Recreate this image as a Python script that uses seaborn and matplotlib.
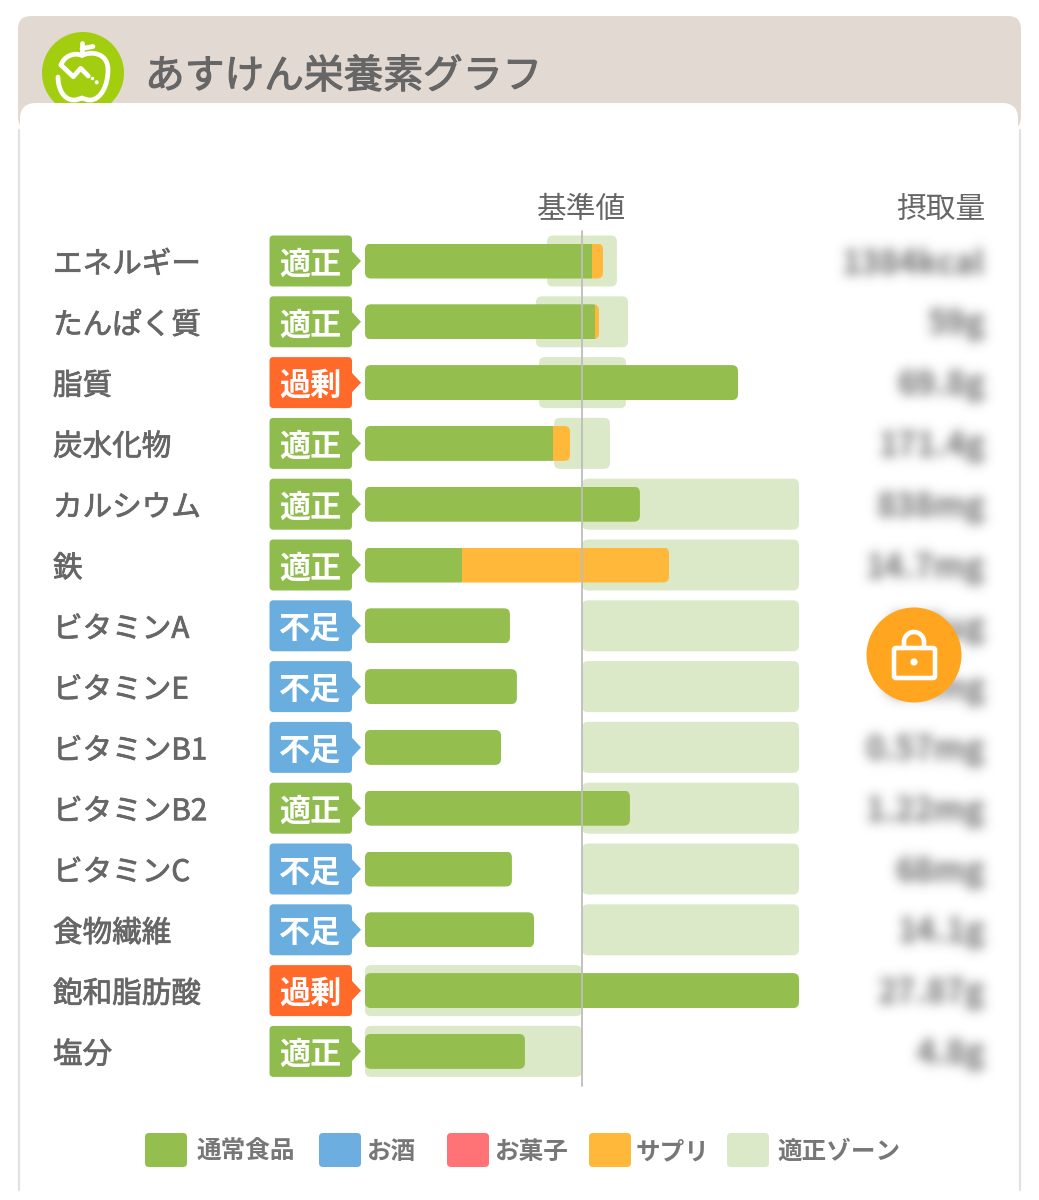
import numpy as np
import matplotlib
matplotlib.use("Agg")
import matplotlib.pyplot as plt
import matplotlib.patheffects as pe
from matplotlib.patches import FancyBboxPatch, Circle, Polygon, PathPatch
from matplotlib.path import Path
import seaborn as sns

sns.set_theme(style="white")
plt.rcParams["font.family"] = ["Noto Sans CJK JP", "DejaVu Sans"]

# ---- data (percent of the reference value; bar axis is clipped at 200) ----
nutrients = ["エネルギー", "たんぱく質", "脂質", "炭水化物", "カルシウム", "鉄", "ビタミンA",
             "ビタミンE", "ビタミンB1", "ビタミンB2", "ビタミンC", "食物繊維", "飽和脂肪酸", "塩分"]
status = ["適正", "適正", "過剰", "適正", "適正", "適正", "不足",
          "不足", "不足", "適正", "不足", "不足", "過剰", "適正"]
food_pct = [104.6, 106.0, 171.9, 86.6, 126.7, 44.7, 66.8,
            70.0, 62.7, 122.1, 67.7, 77.9, 200.0, 73.7]
supplement_pct = [5.1, 1.8, 0.0, 7.9, 0.0, 95.4, 0.0,
                  0.0, 0.0, 0.0, 0.0, 0.0, 0.0, 0.0]
zone_low = [83.9, 78.8, 80.2, 87.1, 100, 100, 100, 100, 100, 100, 100, 100, 0, 0]
zone_high = [116.1, 121.2, 120.3, 112.9, 200, 200, 200, 200, 200, 200, 200, 200, 100, 100]
intake = ["1384kcal", "59g", "69.8g", "171.4g", "838mg", "14.7mg", "468μg",
          "4.6mg", "0.57mg", "1.22mg", "68mg", "14.1g", "27.87g", "4.8g"]
legend_names = ["通常食品", "お酒", "お菓子", "サプリ", "適正ゾーン"]

GREEN, BLUE, RED, ORANGE, ZONE = "#94BE4E", "#6CAEE0", "#FF7377", "#FFB83A", "#DCE9C8"
badge_colors = {"適正": "#8FBC4C", "不足": "#6AAEE0", "過剰": "#FF6A2B"}
TXT = "#666666"
medium = [pe.withStroke(linewidth=0.55, foreground=TXT)]

W, H = 1039, 1200
fig = plt.figure(figsize=(W / 100, H / 100), dpi=100, facecolor="white")

# pixel-space page layer (card, header, logo)
bg = fig.add_axes([0, 0, 1, 1], zorder=0)
bg.set_xlim(0, W); bg.set_ylim(H, 0); bg.axis("off")
bg.add_patch(FancyBboxPatch((18, 16), 1003, 114, boxstyle="round,pad=0,rounding_size=13",
                            fc="#E3D9D3", ec="none"))
LOGO = "#A3CE0F"
bg.add_patch(Circle((83, 73), 41, fc=LOGO, ec="none"))
wh = dict(color="white", lw=3.4, solid_capstyle="round", solid_joinstyle="round", zorder=4)
apple_body = Path([(61, 65),
                   (64, 56), (74, 52), (82, 55.5),
                   (90, 51), (108, 52), (108, 70),
                   (108, 85), (101, 100), (90, 100),
                   (87, 100), (85, 99), (82, 98),
                   (79, 99), (77, 100), (74, 100),
                   (63, 100), (58, 88), (58, 77)],
                  [Path.MOVETO] + [Path.CURVE4] * 18)
bg.add_patch(PathPatch(apple_body, fc="none", ec="white", lw=3.4, capstyle="round", zorder=4))
bg.plot([82, 82], [43, 54], **wh)
bg.plot([82, 93], [48.5, 46.5], **wh)
bg.plot([61, 73.3, 80.7, 88.3], [65, 76.7, 68.3, 76], **wh)
bg.add_patch(Circle((92.5, 78.5), 1.7, fc="white", ec="none", zorder=4))
bg.add_patch(Circle((96.7, 82.3), 2.0, fc="white", ec="none", zorder=4))
bg.text(145, 77, "あすけん栄養素グラフ", fontsize=28.6, color=TXT, va="center", ha="left",
        path_effects=[pe.withStroke(linewidth=0.8, foreground=TXT)])
# white inner card and side shadows
bg.add_patch(FancyBboxPatch((20, 103), 998, 1100, boxstyle="round,pad=0,rounding_size=16",
                            fc="white", ec="none", zorder=5))
bg.plot([19, 19], [130, 1190], color="#E2E2E2", lw=1.6, zorder=5)
bg.plot([1020, 1020], [130, 1190], color="#E2E2E2", lw=1.6, zorder=5)
bg.text(581.5, 209, "基準値", fontsize=21.4, color=TXT, ha="center", va="center", zorder=6)
bg.text(985, 209, "摂取量", fontsize=21.4, color=TXT, ha="right", va="center", zorder=6)

# ---- chart axes: x 0..200 = px 365..799, one row = 60.8 px ----
X0, X1, RH, Y0 = 365, 799, 60.8, 261
top = Y0 - RH / 2
bottom = Y0 + 13 * RH + RH / 2
ax = fig.add_axes([X0 / W, 1 - bottom / H, (X1 - X0) / W, (bottom - top) / H], zorder=1)
ax.patch.set_alpha(0)

food = np.array(food_pct)
supp = np.array(supplement_pct)
low = np.array(zone_low)
high = np.array(zone_high)

PX_X = (X1 - X0) / 200.0


def rounded(x, y, w, h, r_px, **kw):
    return FancyBboxPatch((x, y), w, h, boxstyle=f"round,pad=0,rounding_size={r_px / PX_X}",
                          mutation_aspect=PX_X / RH, **kw)


n0 = len(ax.patches)
sns.barplot(x=high - low, y=nutrients, left=low, color=ZONE, saturation=1, width=51 / RH, orient="h", ax=ax, zorder=1)
zones = list(ax.patches[n0:])
n1 = len(ax.patches)
sns.barplot(x=supp, y=nutrients, left=food, color=ORANGE, saturation=1, width=35 / RH, orient="h", ax=ax, zorder=2)
supps = list(ax.patches[n1:])
n2 = len(ax.patches)
sns.barplot(x=food, y=nutrients, color=GREEN, saturation=1, width=35 / RH, orient="h", ax=ax, zorder=3)
foods = list(ax.patches[n2:])

ax.set_xlim(0, 200)
ax.set_ylim(13.5, -0.5)
ax.set_xlabel(""); ax.set_ylabel("")
ax.set_xticks([])
sns.despine(ax=ax, left=True, bottom=True, top=True, right=True)
ax.grid(False)

# rounded corners on the library's bars
for r in zones:
    x, y, w, h = r.get_x(), r.get_y(), r.get_width(), r.get_height()
    r.set_visible(False)
    ax.add_patch(rounded(x, y, w, h, 6, fc=ZONE, ec="none", zorder=1))
for rf, rs in zip(foods, supps):
    y, h = rf.get_y(), rf.get_height()
    total = rf.get_width() + rs.get_width()
    clip = rounded(0, y, total, h, 6, transform=ax.transData)
    rf.set_clip_path(clip)
    rs.set_clip_path(clip)
    rf.set_linewidth(0); rs.set_linewidth(0)

# base-value line
ax.plot([100, 100], [-0.5, 13.57], color="#BDBDBD", lw=1.3, zorder=5, clip_on=False)

# row labels as y tick labels
ax.tick_params(axis="y", length=0, pad=(X0 - 53) * 0.72)
for lab in ax.get_yticklabels():
    lab.set_ha("left")
    lab.set_fontsize(21.3)
    lab.set_color(TXT)
    lab.set_path_effects(medium)

# status badges
bx0 = (269.5 - X0) / PX_X
bx1 = (352 - X0) / PX_X
tip = (361 - X0) / PX_X
for i, s in enumerate(status):
    c = badge_colors[s]
    ax.add_patch(rounded(bx0, i - 25.5 / RH, bx1 - bx0, 51 / RH, 4, fc=c, ec="none", clip_on=False, zorder=2))
    ax.add_patch(Polygon([(bx1 - 1, i - 12 / RH), (tip, i), (bx1 - 1, i + 12 / RH)], closed=True,
                         fc=c, ec="none", clip_on=False, zorder=2))
    ax.text((310 - X0) / PX_X, i, s, color="white", fontsize=22.4, fontweight="bold", ha="center",
            va="center_baseline", clip_on=False, zorder=3)


# blurred intake column
def blur(img, dpi, sigma=5.6):
    pad = int(3 * sigma) + 2
    out = np.zeros((img.shape[0] + 2 * pad, img.shape[1] + 2 * pad, 4))
    out[pad:pad + img.shape[0], pad:pad + img.shape[1], :] = img
    out[..., :3] = np.array([0.42, 0.42, 0.42])
    k = np.arange(-pad, pad + 1)
    k = np.exp(-k ** 2 / (2 * sigma ** 2)); k /= k.sum()
    a = out[..., 3]
    a = np.apply_along_axis(lambda v: np.convolve(v, k, mode="same"), 0, a)
    a = np.apply_along_axis(lambda v: np.convolve(v, k, mode="same"), 1, a)
    out[..., 3] = a
    return out, -pad, -pad


for i, v in enumerate(intake):
    t = ax.text((985 - X0) / PX_X, i + 3 / RH, v, color="#444444", fontsize=23.5, fontweight="bold", ha="right",
                va="center", clip_on=False, zorder=3)
    t.set_agg_filter(blur)

# top layer in pixels: legend and lock
fg = fig.add_axes([0, 0, 1, 1], zorder=2)
fg.set_xlim(0, W); fg.set_ylim(H, 0); fg.axis("off"); fg.patch.set_alpha(0)
legend_colors = [GREEN, BLUE, RED, ORANGE, ZONE]
swatch_x = [145, 319, 447, 589, 727]
text_x = [197, 366, 494, 636, 777]
for name, col, sx, tx in zip(legend_names, legend_colors, swatch_x, text_x):
    fg.add_patch(FancyBboxPatch((sx, 1133), 42, 34, boxstyle="round,pad=0,rounding_size=4", fc=col, ec="none"))
    fg.text(tx, 1152, name, fontsize=17.7, color="#777777", fontweight="bold", ha="left", va="center")

fg.add_patch(Circle((914, 655), 47.5, fc="#FFA51F", ec="none"))
fg.add_patch(FancyBboxPatch((894, 648), 41, 30, boxstyle="round,pad=0,rounding_size=2",
                            fc="none", ec="white", lw=3.3))
th = np.linspace(np.pi, 0, 30)
fg.plot(np.r_[904, 914 + 10 * np.cos(th), 924], np.r_[648, 642 - 10 * np.sin(th), 648],
        color="white", lw=3.3)
fg.add_patch(Circle((914, 662), 3.6, fc="white", ec="none"))

fig.savefig("out.png", dpi=100, facecolor="white")
